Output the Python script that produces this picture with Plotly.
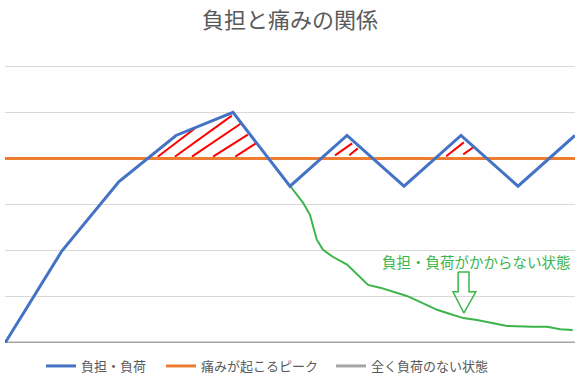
import plotly.graph_objects as go

# Data
categories = [0, 1, 2, 3, 4, 5, 6, 7, 8, 9, 10]
load = [0, 2.0, 3.5, 4.5, 5.0, 3.4, 4.5, 3.4, 4.5, 3.4, 4.5]
pain_peak = [4] * 11
no_load = [0] * 11

relief_x = [5.0, 5.23, 5.35, 5.47, 5.58, 5.75, 6.0, 6.23, 6.37, 6.58, 6.81, 7.05, 7.28,
            7.58, 7.81, 8.04, 8.28, 8.56, 8.81, 9.26, 9.51, 9.74, 9.96]
relief_y = [3.41, 3.04, 2.78, 2.24, 2.02, 1.87, 1.70, 1.43, 1.26, 1.20, 1.11, 1.02, 0.89,
            0.72, 0.63, 0.54, 0.50, 0.43, 0.37, 0.35, 0.35, 0.30, 0.28]

# hatch segments (x0, y0, x1, y1) in data units
hatch = [
    (2.68, 4.04, 3.33, 4.65),
    (2.98, 4.04, 3.98, 4.93),
    (3.28, 4.04, 4.14, 4.76),
    (3.65, 4.04, 4.26, 4.52),
    (4.04, 4.04, 4.40, 4.33),
    (5.79, 4.07, 6.09, 4.33),
    (6.04, 4.07, 6.19, 4.22),
    (7.74, 4.05, 8.05, 4.35),
    (8.04, 4.09, 8.21, 4.24),
]

# arrow outline (data units)
arrow_x = [7.95, 8.14, 8.14, 8.26, 8.05, 7.86, 7.95, 7.95]
arrow_y = [1.54, 1.54, 1.11, 1.11, 0.65, 1.11, 1.11, 1.54]

FONT = "Noto Sans CJK JP"
GREEN = "#3BB54A"
GREY_TXT = "#595959"

fig = go.Figure()
fig.add_trace(go.Scatter(x=relief_x, y=relief_y, mode="lines", showlegend=False,
                         line=dict(color=GREEN, width=2), hoverinfo="skip"))
hx, hy = [], []
for x0, y0, x1, y1 in hatch:
    hx += [x0, x1, None]
    hy += [y0, y1, None]
fig.add_trace(go.Scatter(x=hx, y=hy, mode="lines", showlegend=False,
                         line=dict(color="#FF0000", width=2), hoverinfo="skip"))
fig.add_trace(go.Scatter(x=arrow_x, y=arrow_y, mode="lines", showlegend=False,
                         line=dict(color=GREEN, width=1.5), hoverinfo="skip"))
fig.add_trace(go.Scatter(x=categories, y=no_load, mode="lines", name="全く負荷のない状態",
                         line=dict(color="#A5A5A5", width=3), legend="legend3"))
fig.add_trace(go.Scatter(x=categories, y=pain_peak, mode="lines", name="痛みが起こるピーク",
                         line=dict(color="#ED7D31", width=3), legend="legend2"))
fig.add_trace(go.Scatter(x=categories, y=load, mode="lines", name="負担・負荷",
                         line=dict(color="#4472C4", width=3), legend="legend"))

fig.add_annotation(x=8.28, y=1.76, xref="x", yref="y", text="負担・負荷がかからない状態",
                   showarrow=False, font=dict(family=FONT, size=14.5, color=GREEN))

leg_common = dict(orientation="h", xref="container", yref="container", y=1 - 366 / 380,
                  yanchor="middle", xanchor="left", bgcolor="rgba(0,0,0,0)",
                  font=dict(family=FONT, size=13, color=GREY_TXT), itemwidth=30)

fig.update_layout(
    width=580, height=380,
    margin=dict(l=5, r=5, t=64, b=37, autoexpand=False),
    paper_bgcolor="white", plot_bgcolor="white",
    title=dict(text="負担と痛みの関係", x=0.5, xanchor="center", y=1 - 20 / 380,
               yanchor="middle", font=dict(family=FONT, size=22, color=GREY_TXT)),
    font=dict(family=FONT, color=GREY_TXT),
    showlegend=True,
    legend=dict(x=41 / 580, **leg_common),
    legend2=dict(x=161 / 580, **leg_common),
    legend3=dict(x=331 / 580, **leg_common),
    xaxis=dict(range=[0, 10], showgrid=False, showticklabels=False, zeroline=False,
               ticks="", showline=False, automargin=False),
    yaxis=dict(range=[0, 6.05], tickvals=[1, 2, 3, 4, 5, 6], showgrid=True,
               gridcolor="#D9D9D9", gridwidth=1,
               showticklabels=False, zeroline=False, ticks="", showline=False,
               automargin=False),
)

fig.write_html("out.html", config={"displayModeBar": False},
               post_script="document.body.style.margin='0';")
